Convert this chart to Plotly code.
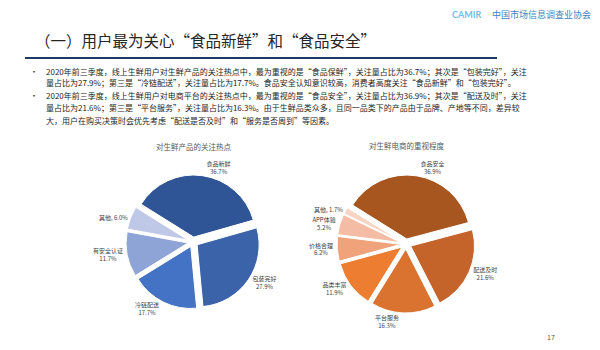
import plotly.graph_objects as go

# Attention hot spots for fresh produce (%)
product_labels = ["食品新鲜", "包装完好", "冷链配送", "有安全认证", "其他"]
product_values = [36.7, 27.9, 17.7, 11.7, 6.0]
product_colors = ["#2F5597", "#3B63AA", "#4472C4", "#8FA4D6", "#BFC9E7"]

# Importance ratings for fresh e-commerce platforms (%)
platform_labels = ["食品安全", "配送及时", "平台服务", "品类丰富", "价格合理", "APP体验", "其他"]
platform_values = [36.9, 21.6, 16.3, 11.9, 6.2, 5.2, 1.7]
platform_colors = ["#A8561F", "#C4642A", "#DA7330", "#ED7D31", "#F0A27B", "#F4BCA4", "#F8D4C5"]

title_text = "（一）用户最为关心“食品新鲜”和“食品安全”"
body_lines = [
    "2020年前三季度，线上生鲜用户对生鲜产品的关注热点中，最为重视的是“食品保鲜”，关注量占比为36.7%；其次是“包装完好”，关注",
    "量占比为27.9%；第三是“冷链配送”，关注量占比为17.7%。食品安全认知意识较高，消费者高度关注“食品新鲜”和“包装完好”。",
    "2020年前三季度，线上生鲜用户对电商平台的关注热点中，最为重视的是“食品安全”，关注量占比为36.9%；其次是“配送及时”，关注",
    "量占比为21.6%；第三是“平台服务”，关注量占比为16.3%。由于生鲜品类众多，且同一品类下的产品由于品牌、产地等不同，差异较",
    "大，用户在购买决策时会优先考虑“配送是否及时”和“服务是否周到”等因素。",
]
bullet_starts = [0, 2]

FONT = "Noto Sans CJK SC"
W, H = 600, 350


def slice_text(labels, values):
    out = []
    for lab, val in zip(labels, values):
        sep = ", " if lab == "其他" else "<br>"
        out.append(f"{lab}{sep}{val:.1f}%")
    return out


def px_domain(cx, cy, r):
    return dict(x=[(cx - r) / W, (cx + r) / W], y=[(H - cy - r) / H, (H - cy + r) / H])


fig = go.Figure()

fig.add_trace(go.Pie(
    labels=product_labels, values=product_values, sort=False, direction="clockwise",
    rotation=-58, pull=[0.08] * len(product_values),
    marker=dict(colors=product_colors, line=dict(color="white", width=1)),
    text=slice_text(product_labels, product_values), textinfo="text",
    textposition="outside", textfont=dict(family=FONT, size=6, color="#404040"),
    domain=px_domain(193, 242, 67), showlegend=False, hoverinfo="label+value",
))

fig.add_trace(go.Pie(
    labels=platform_labels, values=platform_values, sort=False, direction="clockwise",
    rotation=-58, pull=[0.08] * len(platform_values),
    marker=dict(colors=platform_colors, line=dict(color="white", width=1)),
    text=slice_text(platform_labels, platform_values), textinfo="text",
    textposition="outside", textfont=dict(family=FONT, size=6, color="#404040"),
    domain=px_domain(406, 244, 69), showlegend=False, hoverinfo="label+value",
))

annotations = [
    dict(text=title_text, x=33 / W, y=1 - 40 / H, xanchor="left", yanchor="middle",
         font=dict(family=FONT, size=15.5, color="#262626")),
    dict(text="<b>CAMIR</b>", x=450 / W, y=1 - 14 / H, xanchor="left", yanchor="middle",
         font=dict(family="Lato", size=9, color="#6EC1EA")),
    dict(text="中国市场信息调查业协会", x=490 / W, y=1 - 14 / H, xanchor="left", yanchor="middle",
         font=dict(family=FONT, size=9, color="#3F7FC4")),
    dict(text="对生鲜产品的关注热点", x=193 / W, y=1 - 147 / H, xanchor="center", yanchor="middle",
         font=dict(family=FONT, size=7.5, color="#595959")),
    dict(text="对生鲜电商的重视程度", x=406 / W, y=1 - 145 / H, xanchor="center", yanchor="middle",
         font=dict(family=FONT, size=7.5, color="#595959")),
    dict(text="17", x=551 / W, y=1 - 337 / H, xanchor="center", yanchor="middle",
         font=dict(family=FONT, size=7, color="#595959")),
]

line_ys = [71, 83, 96, 108, 121]
for i, (line, yy) in enumerate(zip(body_lines, line_ys)):
    annotations.append(dict(text=line, x=44 / W, y=1 - yy / H, xanchor="left", yanchor="middle",
                            font=dict(family=FONT, size=8, color="#262626")))
    if i in bullet_starts:
        annotations.append(dict(text="•", x=34 / W, y=1 - yy / H, xanchor="center", yanchor="middle",
                                font=dict(family=FONT, size=8, color="#262626")))

for a in annotations:
    a.update(xref="paper", yref="paper", showarrow=False)

fig.update_layout(
    width=W, height=H, margin=dict(l=0, r=0, t=0, b=0),
    paper_bgcolor="white", plot_bgcolor="white",
    annotations=annotations,
    shapes=[dict(type="line", xref="paper", yref="paper", x0=25 / W, x1=497 / W,
                 y0=1 - 58 / H, y1=1 - 58 / H, line=dict(color="#1F3864", width=2))],
)

fig.write_html("out.html")
